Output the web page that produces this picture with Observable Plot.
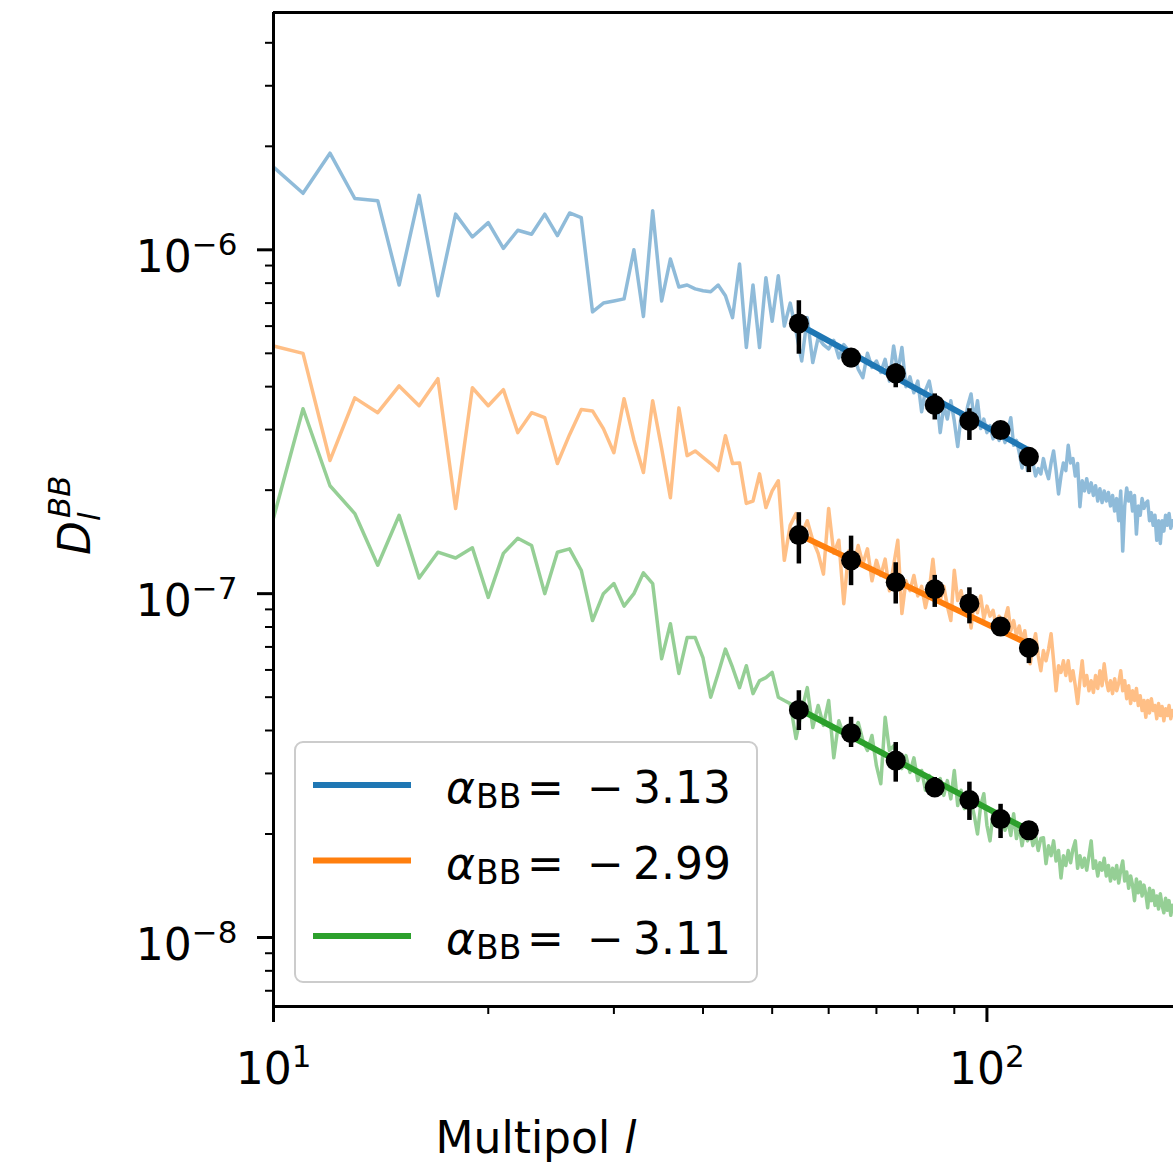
<!DOCTYPE html>
<html><head><meta charset="utf-8">
<script src="https://cdn.jsdelivr.net/npm/d3@7"></script>
<script src="https://cdn.jsdelivr.net/npm/@observablehq/plot@0.6"></script>
<style>body{margin:0;background:#fff;} svg{display:block;}</style>
</head><body><div id="chart"></div>
<script>
// Multipoles
const ell = [
10,11,12,13,14,15,16,17,18,19,
20,21,22,23,24,25,26,27,28,29,
30,31,32,33,34,35,36,37,38,39,
40,41,42,43,44,45,46,47,48,49,
50,51,52,53,54,55,56,57,58,59,
60,61,62,63,64,65,66,67,68,69,
70,71,72,73,74,75,76,77,78,79,
80,81,82,83,84,85,86,87,88,89,
90,91,92,93,94,95,96,97,98,99,
100,101,102,103,104,105,106,107,108,109,
110,111,112,113,114,115,116,117,118,119,
120,121,122,123,124,125,126,127,128,129,
130,131,132,133,134,135,136,137,138,139,
140,141,142,143,144,145,146,147,148,149,
150,151,152,153,154,155,156,157,158,159,
160,161,162,163,164,165,166,167,168,169,
170,171,172,173,174,175,176,177,178,179,
180,181,182,183];

const blueRaw = [
1.74e-6,1.46e-6,1.91e-6,1.41e-6,1.39e-6,7.9e-7,1.44e-6,7.35e-7,1.27e-6,1.09e-6,
1.2e-6,1.01e-6,1.14e-6,1.11e-6,1.27e-6,1.1e-6,1.28e-6,1.24e-6,6.6e-7,7.0e-7,
7.1e-7,7.2e-7,1.0e-6,6.4e-7,1.3e-6,7.1e-7,9.4e-7,7.8e-7,7.9e-7,7.7e-7,
7.6e-7,7.55e-7,7.9e-7,7.35e-7,6.35e-7,9.1e-7,5.2e-7,7.9e-7,5.2e-7,8.3e-7,
6.2e-7,8.4e-7,6.0e-7,7.0e-7,5.8e-7,4.75e-7,6.35e-7,4.7e-7,5.55e-7,5.3e-7,
5.15e-7,5.45e-7,4.85e-7,5.3e-7,5.1e-7,5.0e-7,4.5e-7,4.25e-7,5.0e-7,4.55e-7,
4.75e-7,4.4e-7,4.8e-7,4.15e-7,5.25e-7,4.4e-7,5.2e-7,4.0e-7,4.27e-7,3.84e-7,
4.15e-7,3.38e-7,3.9e-7,4.15e-7,3.64e-7,3.74e-7,2.94e-7,3.52e-7,3.22e-7,3.64e-7,
3.18e-7,2.68e-7,3.29e-7,3.08e-7,3.52e-7,3.81e-7,3.18e-7,3.64e-7,3.02e-7,3.22e-7,
2.94e-7,3.08e-7,2.82e-7,3.02e-7,2.79e-7,2.94e-7,2.75e-7,2.98e-7,3.25e-7,2.7e-7,
2.79e-7,2.57e-7,2.32e-7,2.64e-7,2.28e-7,2.52e-7,2.4e-7,2.2e-7,2.31e-7,2.23e-7,
2.47e-7,2.28e-7,2.16e-7,2.4e-7,2.6e-7,2.28e-7,1.95e-7,2.2e-7,2.4e-7,2.28e-7,
2.7e-7,2.4e-7,2.47e-7,2.2e-7,2.39e-7,1.79e-7,2.13e-7,1.99e-7,2.16e-7,1.97e-7,
2.1e-7,1.93e-7,2.06e-7,1.86e-7,2.02e-7,1.84e-7,1.99e-7,1.86e-7,1.97e-7,1.8e-7,
1.93e-7,1.74e-7,1.89e-7,1.63e-7,1.99e-7,1.33e-7,1.8e-7,2.03e-7,1.86e-7,1.97e-7,
1.74e-7,1.93e-7,1.49e-7,1.8e-7,1.69e-7,1.89e-7,1.77e-7,1.83e-7,1.86e-7,1.63e-7,
1.72e-7,1.58e-7,1.69e-7,1.43e-7,1.63e-7,1.4e-7,1.63e-7,1.52e-7,1.69e-7,1.58e-7,
1.71e-7,1.55e-7,1.63e-7,1.58e-7];

const orangeRaw = [
5.25e-7,5.0e-7,2.44e-7,3.71e-7,3.36e-7,4.02e-7,3.52e-7,4.22e-7,1.77e-7,3.97e-7,
3.52e-7,3.92e-7,2.94e-7,3.36e-7,3.25e-7,2.39e-7,2.9e-7,3.43e-7,3.4e-7,3.02e-7,
2.57e-7,3.69e-7,2.8e-7,2.25e-7,3.64e-7,2.64e-7,1.9e-7,3.47e-7,2.52e-7,2.6e-7,
2.49e-7,2.39e-7,2.28e-7,2.88e-7,2.39e-7,2.4e-7,1.83e-7,1.86e-7,2.23e-7,1.78e-7,
1.99e-7,2.13e-7,1.25e-7,1.58e-7,1.71e-7,1.49e-7,1.63e-7,1.43e-7,1.31e-7,1.14e-7,
1.77e-7,1.31e-7,1.43e-7,9.35e-8,1.33e-7,1.21e-7,1.38e-7,1.22e-7,1.35e-7,1.09e-7,
1.25e-7,1.13e-7,1.26e-7,1.02e-7,1.21e-7,1.43e-7,8.75e-8,1.09e-7,1.02e-7,1.13e-7,
9.85e-8,1.05e-7,9.1e-8,1.02e-7,1.26e-7,9.85e-8,9.55e-8,1.05e-7,9.2e-8,8.35e-8,
1.17e-7,9.55e-8,1.02e-7,8.95e-8,9.7e-8,7.95e-8,9.55e-8,8.8e-8,9.85e-8,8.45e-8,
9.2e-8,8.6e-8,8.95e-8,8.05e-8,8.6e-8,8.2e-8,8.45e-8,9.1e-8,7.8e-8,8.35e-8,
7.55e-8,8.05e-8,7.3e-8,7.8e-8,6.83e-8,6.25e-8,7.05e-8,7.65e-8,6.6e-8,5.97e-8,
6.83e-8,6.38e-8,6.9e-8,7.65e-8,6.38e-8,5.22e-8,6.17e-8,5.9e-8,6.38e-8,5.78e-8,
6.38e-8,5.58e-8,5.97e-8,5.4e-8,4.79e-8,5.58e-8,6.38e-8,5.4e-8,5.78e-8,5.22e-8,
5.58e-8,5.16e-8,5.78e-8,5.3e-8,5.97e-8,5.4e-8,6.25e-8,5.58e-8,5.22e-8,5.58e-8,
5.12e-8,5.66e-8,5.22e-8,5.5e-8,5.97e-8,5.22e-8,5.58e-8,4.95e-8,5.4e-8,4.79e-8,
5.22e-8,4.89e-8,5.3e-8,4.73e-8,5.05e-8,4.57e-8,4.89e-8,4.37e-8,4.89e-8,4.5e-8,
4.95e-8,4.57e-8,4.73e-8,4.33e-8,4.79e-8,4.42e-8,4.7e-8,4.27e-8,4.63e-8,4.42e-8,
4.73e-8,4.33e-8,4.57e-8,4.42e-8];

const greenRaw = [
1.66e-7,3.45e-7,2.06e-7,1.71e-7,1.21e-7,1.69e-7,1.11e-7,1.32e-7,1.27e-7,1.36e-7,
9.75e-8,1.31e-7,1.45e-7,1.38e-7,1.0e-7,1.32e-7,1.35e-7,1.17e-7,8.35e-8,1.0e-7,
1.07e-7,9.2e-8,1.0e-7,1.15e-7,1.07e-7,6.47e-8,8.18e-8,5.86e-8,7.45e-8,7.45e-8,
6.5e-8,5.0e-8,5.86e-8,6.9e-8,6.1e-8,5.33e-8,6.17e-8,5.12e-8,5.58e-8,5.7e-8,
5.9e-8,5.0e-8,4.89e-8,4.79e-8,3.79e-8,4.57e-8,5.33e-8,4.08e-8,4.73e-8,4.14e-8,
4.89e-8,3.33e-8,4.27e-8,3.87e-8,4.14e-8,3.92e-8,4.22e-8,3.74e-8,3.5e-8,3.87e-8,
3.16e-8,2.8e-8,4.37e-8,3.5e-8,3.61e-8,3.27e-8,3.1e-8,3.38e-8,3.02e-8,3.33e-8,
2.86e-8,3.06e-8,2.68e-8,2.96e-8,2.71e-8,2.77e-8,2.9e-8,2.59e-8,2.86e-8,2.53e-8,
3.06e-8,2.42e-8,2.68e-8,2.37e-8,2.59e-8,2.5e-8,2.26e-8,2.0e-8,2.42e-8,2.62e-8,
2.12e-8,1.91e-8,2.31e-8,2.12e-8,2.26e-8,2.23e-8,2.05e-8,2.19e-8,1.98e-8,2.29e-8,
1.94e-8,2.12e-8,1.85e-8,2.05e-8,1.91e-8,2.05e-8,1.85e-8,1.98e-8,1.79e-8,1.94e-8,
1.95e-8,1.64e-8,1.85e-8,1.73e-8,1.91e-8,1.67e-8,1.79e-8,1.49e-8,1.73e-8,1.62e-8,
1.79e-8,1.65e-8,1.81e-8,1.91e-8,1.59e-8,1.73e-8,1.6e-8,1.7e-8,1.57e-8,1.73e-8,
1.91e-8,1.59e-8,1.67e-8,1.51e-8,1.65e-8,1.57e-8,1.7e-8,1.51e-8,1.62e-8,1.46e-8,
1.59e-8,1.48e-8,1.62e-8,1.44e-8,1.57e-8,1.67e-8,1.46e-8,1.55e-8,1.39e-8,1.51e-8,
1.42e-8,1.28e-8,1.48e-8,1.35e-8,1.45e-8,1.32e-8,1.42e-8,1.34e-8,1.22e-8,1.39e-8,
1.28e-8,1.37e-8,1.24e-8,1.32e-8,1.21e-8,1.34e-8,1.24e-8,1.18e-8,1.3e-8,1.2e-8,
1.28e-8,1.16e-8,1.24e-8,1.2e-8];

// Binned points with error bars
const binEll = [54.5, 64.5, 74.5, 84.5, 94.5, 104.5, 114.5];
const blueBin = [6.11e-7, 4.86e-7, 4.37e-7, 3.54e-7, 3.18e-7, 2.99e-7, 2.50e-7];
const blueLo  = [4.97e-7, 4.54e-7, 3.97e-7, 3.20e-7, 2.79e-7, 2.84e-7, 2.25e-7];
const blueHi  = [7.11e-7, 5.15e-7, 4.66e-7, 3.81e-7, 3.45e-7, 3.14e-7, 2.66e-7];
const orangeBin = [1.48e-7, 1.25e-7, 1.08e-7, 1.03e-7, 9.37e-8, 8.02e-8, 6.95e-8];
const orangeLo  = [1.22e-7, 1.055e-7, 9.33e-8, 9.12e-8, 8.17e-8, 7.65e-8, 6.26e-8];
const orangeHi  = [1.72e-7, 1.47e-7, 1.23e-7, 1.13e-7, 1.04e-7, 8.46e-8, 7.40e-8];
const greenBin = [4.59e-8, 3.93e-8, 3.27e-8, 2.73e-8, 2.51e-8, 2.21e-8, 2.05e-8];
const greenLo  = [4.00e-8, 3.57e-8, 2.83e-8, 2.56e-8, 2.19e-8, 1.94e-8, 1.94e-8];
const greenHi  = [5.22e-8, 4.37e-8, 3.69e-8, 2.92e-8, 2.83e-8, 2.44e-8, 2.16e-8];

// Power-law fits (end points)
const fitEll = [54.5, 114.5];
const blueFit = [6.06e-7, 2.61e-7];
const orangeFit = [1.485e-7, 7.13e-8];
const greenFit = [4.62e-8, 2.05e-8];

const alphaBB = [-3.13, -2.99, -3.11];
const seriesColors = ["#1f77b4", "#ff7f0e", "#2ca02c"];

const xMajor = [10, 100];
const xMinor = [20, 30, 40, 50, 60, 70, 80, 90];
const yMajor = [1e-8, 1e-7, 1e-6];
const yMinor = [7e-9, 8e-9, 9e-9, 2e-8, 3e-8, 4e-8, 5e-8, 6e-8, 7e-8, 8e-8, 9e-8,
                2e-7, 3e-7, 4e-7, 5e-7, 6e-7, 7e-7, 8e-7, 9e-7, 2e-6, 3e-6, 4e-6];

const xDomain = [10, 182.6];
const yDomain = [6.3e-9, 4.9e-6];

const series = [
  {raw: blueRaw, bin: blueBin, lo: blueLo, hi: blueHi, fit: blueFit},
  {raw: orangeRaw, bin: orangeBin, lo: orangeLo, hi: orangeHi, fit: orangeFit},
  {raw: greenRaw, bin: greenBin, lo: greenLo, hi: greenHi, fit: greenFit}
].map((s, k) => ({
  color: seriesColors[k],
  rawRows: ell.map((l, i) => ({ell: l, D: s.raw[i]})),
  binRows: binEll.map((l, i) => ({ell: l, D: s.bin[i], lo: s.lo[i], hi: s.hi[i]})),
  fitRows: fitEll.map((l, i) => ({ell: l, D: s.fit[i]}))
}));

const FONT = "DejaVu Sans, sans-serif";
const FS = 44;
const supFmt = d => "10^" + Math.round(Math.log10(d));

const marks = [];
for (const s of series) {
  marks.push(Plot.line(s.rawRows, {x: "ell", y: "D", stroke: s.color, strokeOpacity: 0.5, strokeWidth: 3.5, clip: true}));
}
for (const s of series) {
  marks.push(Plot.line(s.fitRows, {x: "ell", y: "D", stroke: s.color, strokeWidth: 6, strokeLinecap: "butt"}));
  marks.push(Plot.ruleX(s.binRows, {x: "ell", y1: "lo", y2: "hi", stroke: "black", strokeWidth: 4.5}));
  marks.push(Plot.dot(s.binRows, {x: "ell", y: "D", r: 10, fill: "black", stroke: "none"}));
}
marks.push(
  Plot.axisX(xMajor, {tickSize: 16, strokeWidth: 3, tickPadding: 30, tickFormat: supFmt, fontSize: FS, label: null}),
  Plot.axisX(xMinor, {tickSize: 8, strokeWidth: 2, tickFormat: () => "", label: null}),
  Plot.axisY(yMajor, {tickSize: 16, strokeWidth: 3, tickPadding: 20, tickFormat: supFmt, fontSize: FS, label: null}),
  Plot.axisY(yMinor, {tickSize: 8, strokeWidth: 2, tickFormat: () => "", label: null}),
  Plot.ruleX([xDomain[0]], {stroke: "black", strokeWidth: 3}),
  Plot.ruleY([yDomain[0]], {stroke: "black", strokeWidth: 3}),
  Plot.ruleY([yDomain[1]], {stroke: "black", strokeWidth: 3})
);

const svg = Plot.plot({
  width: 1173, height: 1169,
  marginLeft: 273, marginRight: 0, marginTop: 12, marginBottom: 163,
  style: {fontFamily: FONT, fontSize: FS + "px", background: "white", color: "black"},
  x: {type: "log", domain: xDomain},
  y: {type: "log", domain: yDomain},
  marks
});
document.getElementById("chart").appendChild(svg);

const NS = "http://www.w3.org/2000/svg";
function supify(label, shiftY) {
  svg.querySelectorAll(`g[aria-label="${label}"]`).forEach(g => {
    if (shiftY) g.setAttribute("transform", (g.getAttribute("transform") || "") + ` translate(0,${shiftY})`);
    g.querySelectorAll("text").forEach(t => {
      const m = t.textContent.match(/^10\^(.+)$/);
      if (!m) return;
      t.textContent = "10";
      const ts = document.createElementNS(NS, "tspan");
      ts.setAttribute("dy", "-17");
      ts.setAttribute("font-size", "31");
      ts.textContent = m[1].replace("-", "\u2212");
      t.appendChild(ts);
    });
  });
}
supify("x-axis tick label", 0);
supify("y-axis tick label", 8);

const root = d3.select(svg);
// x label
const xl = root.append("text").attr("x", 536).attr("y", 1153).attr("text-anchor", "middle")
  .attr("font-family", FONT).attr("font-size", FS).attr("fill", "black");
xl.append("tspan").text("Multipol ");
xl.append("tspan").attr("font-style", "italic").text("l");

// y label
const yl = root.append("g").attr("transform", "translate(90,555) rotate(-90)")
  .attr("font-family", FONT).attr("fill", "black").attr("text-anchor", "start");
yl.append("text").attr("x", 0).attr("y", 0).attr("font-size", FS).attr("font-style", "italic").text("D");
yl.append("text").attr("x", 34).attr("y", 10).attr("font-size", 31).attr("font-style", "italic").text("l");
yl.append("text").attr("x", 37).attr("y", -20).attr("font-size", 31).attr("font-style", "italic").text("BB");

// legend
const lg = root.append("g").attr("font-family", FONT).attr("fill", "black").attr("text-anchor", "start");
lg.append("rect").attr("x", 295).attr("y", 742).attr("width", 462).attr("height", 240).attr("rx", 8)
  .attr("fill", "white").attr("fill-opacity", 0.8).attr("stroke", "#cccccc").attr("stroke-width", 2);
alphaBB.forEach((a, i) => {
  const base = 803 + i * 75.5;
  lg.append("line").attr("x1", 313).attr("x2", 411).attr("y1", base - 18).attr("y2", base - 18)
    .attr("stroke", seriesColors[i]).attr("stroke-width", 6);
  lg.append("text").attr("x", 446).attr("y", base).attr("font-size", FS).attr("font-style", "italic").text("\u03b1");
  lg.append("text").attr("x", 476).attr("y", base + 5).attr("font-size", 33).text("BB");
  lg.append("text").attr("x", 527).attr("y", base).attr("font-size", FS).text("=");
  lg.append("text").attr("x", 587).attr("y", base).attr("font-size", FS).text("\u2212");
  lg.append("text").attr("x", 633).attr("y", base).attr("font-size", FS).text(Math.abs(a).toFixed(2));
});
</script>
</body></html>
